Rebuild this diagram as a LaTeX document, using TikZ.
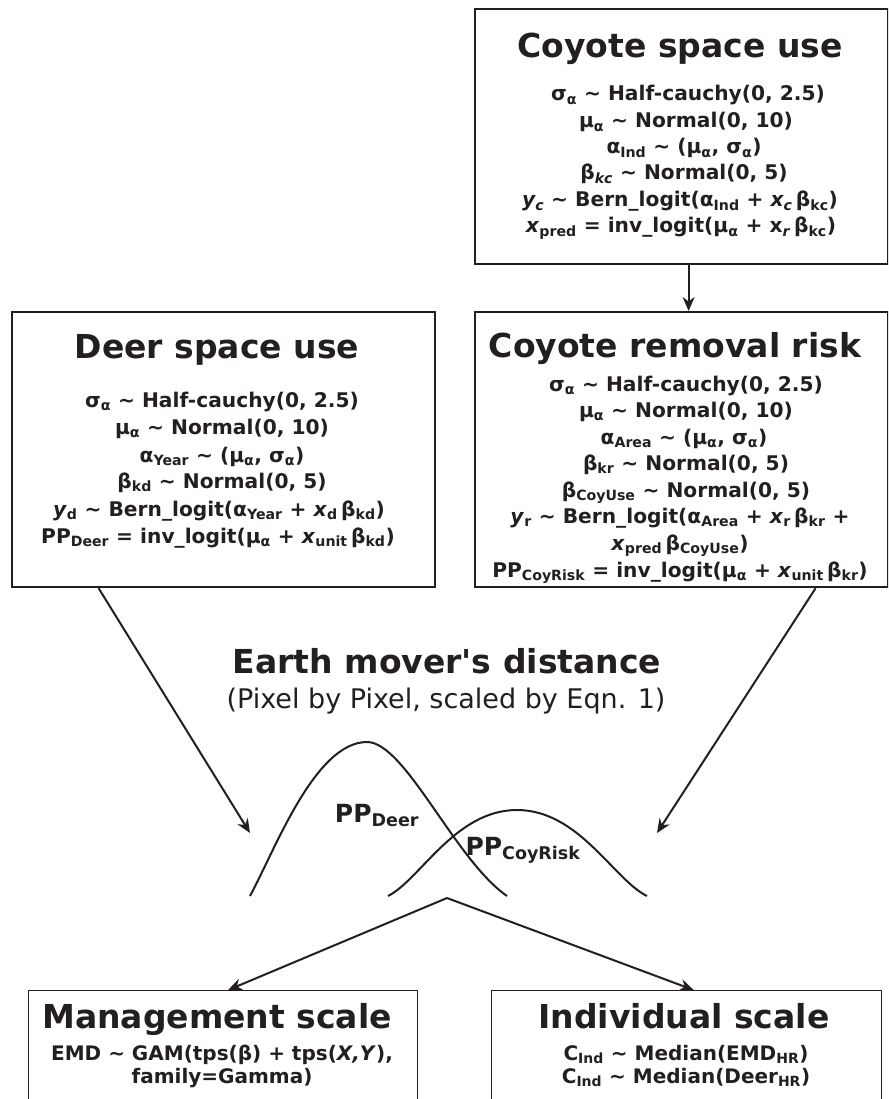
\documentclass[tikz,border=0pt]{standalone}
\usepackage{fontspec}
\setmainfont{DejaVu Sans}
\usetikzlibrary{arrows.meta}
\definecolor{ink}{HTML}{231F20}
\newcommand\sbs[1]{\textsubscript{#1}}
\newcommand\tld{\textasciitilde\ }
\tikzset{
  frame/.style={draw=ink, line width=2.2pt, anchor=north west, inner sep=0pt},
  lowframe/.style={draw=ink, line width=1.2pt, anchor=north west, inner sep=0pt},
  ttl/.style={font=\bfseries\fontsize{33}{36}\selectfont, text=ink, anchor=base, inner sep=0pt},
  eq/.style={font=\bfseries\fontsize{20.2}{22}\selectfont, text=ink, anchor=base, inner sep=0pt},
  loweq/.style={font=\bfseries\fontsize{20}{22}\selectfont, text=ink, anchor=base, inner sep=0pt},
  sub/.style={font=\fontsize{27}{30}\selectfont, text=ink, anchor=base, inner sep=0pt},
  pplab/.style={font=\bfseries\fontsize{25}{28}\selectfont, text=ink, anchor=base, inner sep=0pt},
  arr/.style={draw=ink, line width=2pt, -{Stealth[length=14pt,width=12pt,inset=4.5pt]}},
  curve/.style={draw=ink, line width=2pt}
}
\begin{document}
\begin{tikzpicture}[x=1pt,y=-1pt]
\useasboundingbox (0,0) rectangle (888,1099);
\clip (0,0) rectangle (888,1099);
% boxes
\node[frame, minimum width=413pt, minimum height=255pt] (cu) at (474,8) {};
\node[frame, minimum width=423pt, minimum height=275pt] (deer) at (11,311) {};
\node[frame, minimum width=413pt, minimum height=275pt] (risk) at (474,311) {};
\node[lowframe, minimum width=389pt, minimum height=140pt] (mg) at (28,990) {};
\node[lowframe, minimum width=390pt, minimum height=140pt] (ind) at (491,990) {};
% coyote space use
\node[ttl] (cuT) at (680,58) {Coyote space use};
\node[eq] (cu1) at (688,101) {σ\sbs{α} \tld Half-cauchy(0, 2.5)};
\node[eq] (cu2) at (686,128) {μ\sbs{α} \tld Normal(0, 10)};
\node[eq] (cu3) at (684,154) {α\sbs{Ind} \tld (μ\sbs{α}, σ\sbs{α})};
\node[eq] (cu4) at (684,180) {β\sbs{\textit{kc}} \tld Normal(0, 5)};
\node[eq] (cu5) at (680,207) {\textit{y\sbs{c}} \tld Bern\_logit(α\sbs{Ind} + \textit{x\sbs{c}}\,β\sbs{kc})};
\node[eq] (cu6) at (681,233) {\textit{x}\sbs{pred} = inv\_logit(μ\sbs{α} + x\sbs{\textit{r}}\,β\sbs{kc})};
% deer space use
\node[ttl] (deerT) at (217,358) {Deer space use};
\node[eq] (d1) at (222,407) {σ\sbs{α} \tld Half-cauchy(0, 2.5)};
\node[eq] (d2) at (222,434) {μ\sbs{α} \tld Normal(0, 10)};
\node[eq] (d3) at (222,462) {α\sbs{Year} \tld (μ\sbs{α}, σ\sbs{α})};
\node[eq] (d4) at (222,488) {β\sbs{kd} \tld Normal(0, 5)};
\node[eq] (d5) at (219,516) {\textit{y}\sbs{d} \tld Bern\_logit(α\sbs{Year} + \textit{x}\sbs{d}\,β\sbs{kd})};
\node[eq] (d6) at (218,543) {PP\sbs{Deer} = inv\_logit(μ\sbs{α} + \textit{x}\sbs{unit}\,β\sbs{kd})};
% coyote removal risk
\node[ttl] (riskT) at (675,357) {Coyote removal risk};
\node[eq] (r1) at (686,391) {σ\sbs{α} \tld Half-cauchy(0, 2.5)};
\node[eq] (r2) at (686,417) {μ\sbs{α} \tld Normal(0, 10)};
\node[eq] (r3) at (684,444) {α\sbs{Area} \tld (μ\sbs{α}, σ\sbs{α})};
\node[eq] (r4) at (686,470) {β\sbs{kr} \tld Normal(0, 5)};
\node[eq] (r5) at (686,497) {β\sbs{CoyUse} \tld Normal(0, 5)};
\node[eq] (r6) at (680,523) {\textit{y}\sbs{r} \tld Bern\_logit(α\sbs{Area} + \textit{x}\sbs{r}\,β\sbs{kr} +};
\node[eq] (r7) at (680,550) {\textit{x}\sbs{pred}\,β\sbs{CoyUse})};
\node[eq] (r8) at (680,577) {PP\sbs{CoyRisk} = inv\_logit(μ\sbs{α} + \textit{x}\sbs{unit}\,β\sbs{kr})};
% EMD
\node[ttl] (emdT) at (447,673) {Earth mover\textquotesingle s distance};
\node[sub] (emdS) at (446,708) {(Pixel by Pixel, scaled by Eqn. 1)};
% curves
\draw[curve] (250,896) .. controls (275,850) and (315,742) .. (367,742)
  .. controls (405,742) and (455,860) .. (507,896);
\draw[curve] (388,896) .. controls (420,880) and (455,810) .. (517,810)
  .. controls (579,810) and (614,880) .. (647,896);
\node[pplab] (ppd) at (377,822) {PP\sbs{Deer}};
\node[pplab] (ppc) at (523,855) {PP\sbs{CoyRisk}};
% bottom boxes
\node[ttl] (mgT) at (217,1028) {Management scale};
\node[loweq] (mg1) at (222,1060) {EMD \tld GAM(tps(β) + tps(\textit{X,Y}),};
\node[loweq] (mg2) at (222,1083) {family=Gamma)};
\node[ttl] (indT) at (684,1028) {Individual scale};
\node[loweq] (ind1) at (686,1060) {C\sbs{Ind} \tld Median(EMD\sbs{HR})};
\node[loweq] (ind2) at (686,1083) {C\sbs{Ind} \tld Median(Deer\sbs{HR})};
% connectors
\coordinate (tipL) at (250,833);
\coordinate (tipR) at (657,833);
\coordinate (apex) at (447,898);
\draw[arr] ([xshift=7pt]cu.south) -- ([xshift=7pt]risk.north);
\draw[arr] ([xshift=-125pt]deer.south) -- (tipL);
\draw[arr] ([xshift=134pt]risk.south) -- (tipR);
\draw[arr] (apex) -- ([xshift=5pt]mg.north);
\draw[arr] (apex) -- ([xshift=7pt]ind.north);
\end{tikzpicture}
\end{document}
